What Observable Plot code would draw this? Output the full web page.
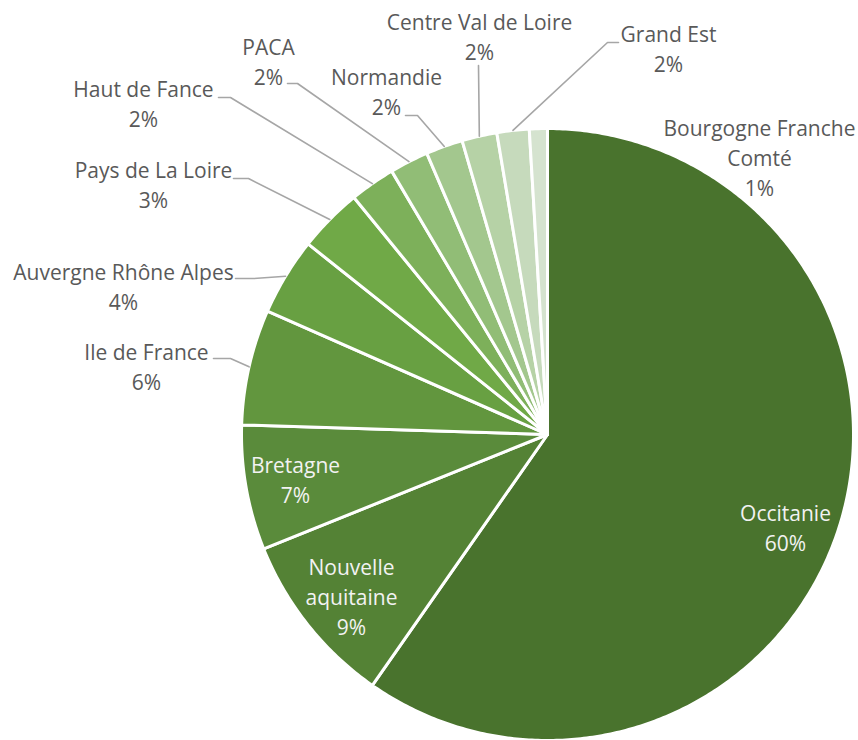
<!DOCTYPE html>
<html><head><meta charset="utf-8">
<script src="https://cdn.jsdelivr.net/npm/d3@7"></script>
<script src="https://cdn.jsdelivr.net/npm/@observablehq/plot@0.6"></script>
<style>body{margin:0;background:#fff}</style>
</head><body><div id="chart"></div>
<script>
// ---- data ----
const regions = ["Occitanie","Nouvelle aquitaine","Bretagne","Ile de France","Auvergne Rhône Alpes","Pays de La Loire","Haut de Fance","PACA","Normandie","Centre Val de Loire","Grand Est","Bourgogne Franche Comté"];
const shares = [59.7, 9.2, 6.6, 6.1, 4.1, 3.4, 2.4, 2.05, 1.95, 1.85, 1.7, 0.95];
const labelNames = ["Occitanie","Nouvelle\naquitaine","Bretagne","Ile de France","Auvergne Rhône Alpes","Pays de La Loire","Haut de Fance","PACA","Normandie","Centre Val de Loire","Grand Est","Bourgogne Franche\nComté"];

// ---- style / layout ----
const colors = ["#49732d","#548235","#5a8b3b","#62963e","#68a042","#70a947","#7db05a","#91bd76","#a3c78e","#b6d2a6","#c6dabc","#d5e3cf"];
const CX = 547, CY = 434, R = 306;
const inside = [true, true, true, false, false, false, false, false, false, false, false, false];
// label block centres (px)
const labelPos = [[785,526],[351,595],[295,478],[146,365],[123,285],[153,183],[143,102],[268,60],[386,90],[479,35],[668,47],[759,156]];
// leader line start + elbow (px), null = none
const leaders = [null,null,null,
  [[213,358],[230,358]],
  [[235,278],[253,278]],
  [[233,178],[248,178]],
  [[218,97],[230,97]],
  [[287,83],[297,83]],
  [[405,115],[417,115]],
  [[478,65],[478,65]],
  [[618,42],[607,42]],
  null];

const ux = px => (px - CX) / R, uy = py => (CY - py) / R;
const total = d3.sum(shares);
const arcs = d3.pie().sort(null).startAngle(0).endAngle(2 * Math.PI)(shares);

const slicePts = [];
arcs.forEach((a, i) => {
  const n = Math.max(4, Math.ceil((a.endAngle - a.startAngle) / 0.01));
  slicePts.push({name: regions[i], x: 0, y: 0, c: colors[i]});
  for (let k = 0; k <= n; k++) {
    const t = a.startAngle + (a.endAngle - a.startAngle) * k / n;
    slicePts.push({name: regions[i], x: Math.sin(t), y: Math.cos(t), c: colors[i]});
  }
  slicePts.push({name: regions[i], x: 0, y: 0, c: colors[i]});
});

const leaderPts = [];
arcs.forEach((a, i) => {
  if (!leaders[i]) return;
  const m = (a.startAngle + a.endAngle) / 2;
  const [s, e] = leaders[i];
  leaderPts.push({name: regions[i], x: ux(s[0]), y: uy(s[1])});
  leaderPts.push({name: regions[i], x: ux(e[0]), y: uy(e[1])});
  leaderPts.push({name: regions[i], x: Math.sin(m), y: Math.cos(m)});
});

const labels = regions.map((r, i) => ({
  name: r,
  text: labelNames[i] + "\n" + Math.round(shares[i] / total * 100) + "%",
  x: ux(labelPos[i][0]), y: uy(labelPos[i][1]),
  fill: inside[i] ? "#f2f2f2" : "#595959"
}));

const chart = Plot.plot({
  width: 858, height: 740,
  margin: 0,
  x: {domain: [-1, 1], range: [CX - R, CX + R], axis: null},
  y: {domain: [-1, 1], range: [CY + R, CY - R], axis: null},
  color: {type: "identity"},
  style: {background: "#fff", fontFamily: "'Open Sans', sans-serif"},
  marks: [
    Plot.line(slicePts, {x: "x", y: "y", z: "name", fill: "c", stroke: "white", strokeWidth: 3, strokeLinejoin: "round", curve: "linear"}),
    Plot.line(leaderPts, {x: "x", y: "y", z: "name", stroke: "#a6a6a6", strokeWidth: 1.6, strokeLinejoin: "miter"}),
    Plot.text(labels, {x: "x", y: "y", text: "text", fill: "fill", fontSize: 21, lineHeight: 1.41, textAnchor: "middle", lineAnchor: "middle", fontFamily: "'Open Sans', sans-serif"})
  ]
});
document.getElementById("chart").appendChild(chart);
</script>
</body></html>
